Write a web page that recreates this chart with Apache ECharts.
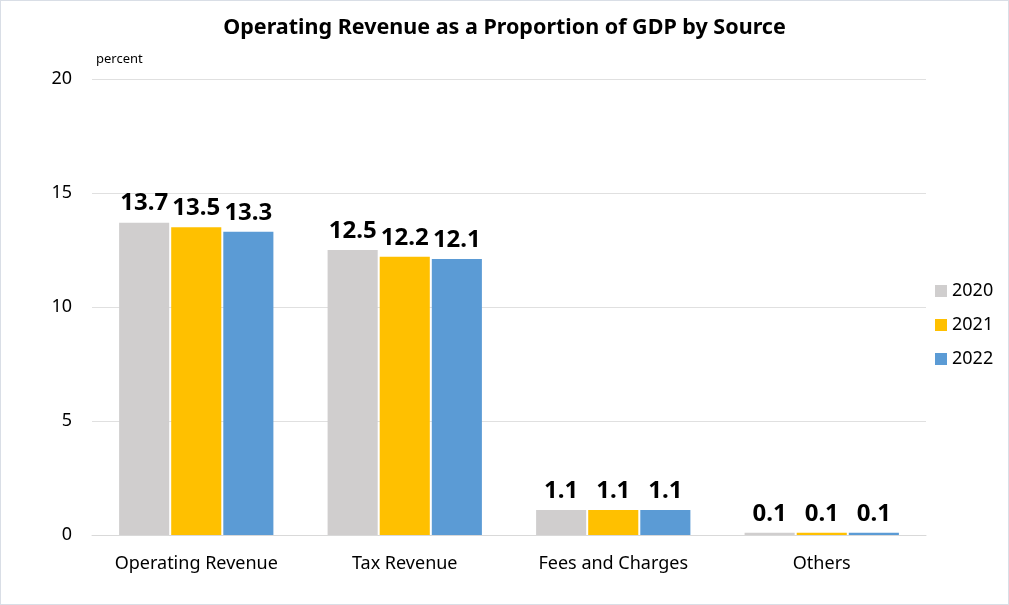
<!DOCTYPE html>
<html><head><meta charset="utf-8">
<script src="https://cdn.jsdelivr.net/npm/echarts@6/dist/echarts.min.js"></script>
<style>html,body{margin:0;padding:0;background:#fff}#c{width:1007px;height:603px;border:1px solid #d9dee6}</style>
</head><body><div id="c"></div>
<script>
const categories = ['Operating Revenue', 'Tax Revenue', 'Fees and Charges', 'Others'];
const years = ['2020', '2021', '2022'];
const v2020 = [13.7, 12.5, 1.1, 0.1];
const v2021 = [13.5, 12.2, 1.1, 0.1];
const v2022 = [13.3, 12.1, 1.1, 0.1];
const yTicks = [0, 5, 10, 15, 20];
const colors = ['#d0cece', '#ffc000', '#5b9bd5'];
const FONT = 'Noto Sans';
const chart = echarts.init(document.getElementById('c'));
const mk = (name, data, i) => ({
  name, type: 'bar', data, barGap: '4%', barCategoryGap: '26%',
  itemStyle: { color: colors[i] },
  label: { show: true, position: 'top', distance: 7, fontFamily: FONT, fontWeight: 'bold', fontSize: 24, color: '#000',
    formatter: p => p.value.toFixed(1) }
});
chart.setOption({
  animation: false,
  title: { text: 'Operating Revenue as a Proportion of GDP by Source', left: 'center', top: 11,
    textStyle: { fontFamily: FONT, fontWeight: 'bold', fontSize: 21.5, color: '#000' } },
  graphic: [{ type: 'text', left: 95, top: 52, style: { text: 'percent', font: '13px "Noto Sans"', fill: '#000' } }],
  legend: { orient: 'vertical', left: 929, top: 276, itemWidth: 12, itemHeight: 12, itemGap: 16,
    icon: 'rect', textStyle: { fontFamily: FONT, fontSize: 18, color: '#000' } },
  grid: { left: 91, right: 82, top: 78, bottom: 69 },
  xAxis: { type: 'category', data: categories,
    axisLine: { lineStyle: { color: '#d9d9d9' } }, axisTick: { show: false },
    axisLabel: { interval: 0, fontFamily: FONT, fontSize: 18, color: '#000', margin: 20 } },
  yAxis: { type: 'value', min: yTicks[0], max: yTicks[yTicks.length-1], interval: 5,
    axisLine: { show: false }, axisTick: { show: false },
    splitLine: { lineStyle: { color: '#e0e0e0' } },
    axisLabel: { fontFamily: FONT, fontSize: 18, color: '#000', margin: 20 } },
  series: [mk(years[0], v2020, 0), mk(years[1], v2021, 1), mk(years[2], v2022, 2)]
});
</script></body></html>
